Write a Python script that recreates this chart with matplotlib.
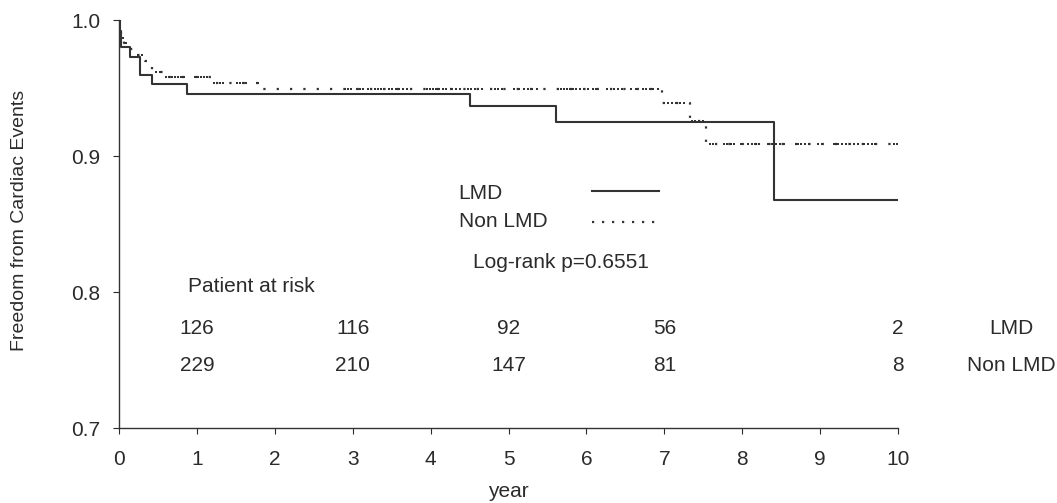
import numpy as np
import matplotlib.pyplot as plt

plt.rcParams['font.family'] = ['Liberation Sans', 'DejaVu Sans']

# Kaplan-Meier steps (time in years, survival after the event)
lmd_times = [0.0, 0.01, 0.03, 0.14, 0.27, 0.42, 0.87, 4.50, 5.61, 8.41, 10.0]
lmd_surv = [1.0, 0.992, 0.980, 0.973, 0.960, 0.953, 0.946, 0.937, 0.925, 0.868, 0.868]

non_times = [0.0, 0.01, 0.02, 0.03, 0.06, 0.12, 0.20, 0.33, 0.37, 0.42, 0.56,
             1.19, 1.81, 6.97, 7.33, 7.53, 10.0]
non_surv = [1.0, 0.996, 0.991, 0.987, 0.983, 0.979, 0.974, 0.970, 0.966, 0.962, 0.958,
            0.954, 0.949, 0.939, 0.926, 0.909, 0.909]

# censored observations (Non LMD)
non_censor = [0.05, 0.09, 0.15, 0.24, 0.29, 0.35,
              0.47, 0.52, 0.60, 0.64, 0.68, 0.72, 0.76, 0.80, 0.84,
              0.97, 1.01, 1.05, 1.09, 1.13,
              1.22, 1.26, 1.30, 1.34, 1.51, 1.55, 1.59, 1.63, 1.79,
              2.90, 2.94, 2.98, 3.05, 3.09, 3.13, 3.20, 3.24, 3.28, 3.32, 3.36, 3.40,
              3.47, 3.51, 3.55, 3.60, 3.65, 3.70, 3.75,
              3.95, 3.99, 4.03, 4.07, 4.11, 4.16, 4.20, 4.28, 4.33, 4.38,
              4.48, 4.52, 4.57, 4.61, 4.66, 4.78, 4.82, 4.87, 4.91,
              5.07, 5.13, 5.20, 5.25, 5.30, 5.36, 5.63, 5.67, 5.71, 5.75, 5.79,
              5.83, 5.87, 5.92, 5.97, 6.02, 6.08, 6.12,
              6.27, 6.31, 6.36, 6.41, 6.46, 6.57, 6.63, 6.72, 6.76, 6.81, 6.86, 6.92,
              7.00, 7.05, 7.10, 7.15, 7.20, 7.25, 7.35, 7.40, 7.45, 7.50,
              7.58, 7.62, 7.76, 7.80, 7.85, 7.90, 7.98, 8.07, 8.12, 8.17, 8.22,
              8.33, 8.38, 8.43, 8.48, 8.53, 8.71, 8.76, 8.81, 8.86, 8.97, 9.03,
              9.18, 9.23, 9.28, 9.33, 9.38, 9.43, 9.49, 9.56, 9.61, 9.66, 9.71,
              9.95, 9.99]

risk_years = [1, 3, 5, 7, 10]
risk_lmd = [126, 116, 92, 56, 2]
risk_non = [229, 210, 147, 81, 8]

line_col = '#333333'
text_col = '#2b2b2b'
fs = 15
dots = (0, (1, 5))

fig = plt.figure(figsize=(10.57, 5.03), dpi=100)
ax = fig.add_axes([0.1126, 0.149, 0.7370, 0.811])

ax.step(lmd_times, lmd_surv, where='post', color=line_col, lw=1.5)
ax.step(non_times, non_surv, where='post', color=line_col, lw=1.6, linestyle=dots)
idx = np.searchsorted(non_times, non_censor, side='right') - 1
ax.plot(non_censor, np.array(non_surv)[idx], 's', color=line_col, ms=2.1, mew=0)

ax.set_xlim(0, 10)
ax.set_ylim(0.7, 1.0)
ax.set_xticks(range(0, 11))
ax.set_yticks([0.7, 0.8, 0.9, 1.0])
ax.set_yticklabels(['0.7', '0.8', '0.9', '1.0'])
for s in ['top', 'right']:
    ax.spines[s].set_visible(False)
for s in ['left', 'bottom']:
    ax.spines[s].set_color(line_col)
    ax.spines[s].set_linewidth(1.0)
ax.tick_params(axis='x', direction='out', length=4, pad=12, labelsize=fs, colors=text_col)
ax.tick_params(axis='y', direction='out', length=4, pad=9.5, labelsize=fs, colors=text_col)

ax.set_ylabel('Freedom from Cardiac Events', fontsize=14, color=text_col)
ax.yaxis.set_label_coords(-0.117, 0.51)
ax.set_xlabel('year', fontsize=fs, color=text_col, va='top')
ax.xaxis.set_label_coords(0.5, -0.132)

# legend drawn by hand
ax.text(4.36, 0.8688, 'LMD', fontsize=fs, color=text_col, va='baseline')
ax.text(4.36, 0.8475, 'Non LMD', fontsize=fs, color=text_col, va='baseline')
ax.plot([6.07, 6.93], [0.874, 0.874], color=line_col, lw=1.5, clip_on=False)
ax.plot([6.07, 6.93], [0.8514, 0.8514], color=line_col, lw=1.6,
        linestyle=(0, (1, 3.5)), clip_on=False)
ax.text(5.67, 0.8174, 'Log-rank p=0.6551', fontsize=fs, color=text_col,
        ha='center', va='baseline')

# patients at risk table
ax.text(0.886, 0.7998, 'Patient at risk', fontsize=fs, color=text_col, va='baseline')
for yr, a, b in zip(risk_years, risk_lmd, risk_non):
    ax.text(yr, 0.7689, str(a), fontsize=fs, color=text_col, ha='center', va='baseline')
    ax.text(yr, 0.7417, str(b), fontsize=fs, color=text_col, ha='center', va='baseline')
ax.text(11.46, 0.7689, 'LMD', fontsize=fs, color=text_col, ha='center', va='baseline',
        clip_on=False)
ax.text(11.46, 0.7417, 'Non LMD', fontsize=fs, color=text_col, ha='center', va='baseline',
        clip_on=False)

fig.savefig('out.png', dpi=100)
